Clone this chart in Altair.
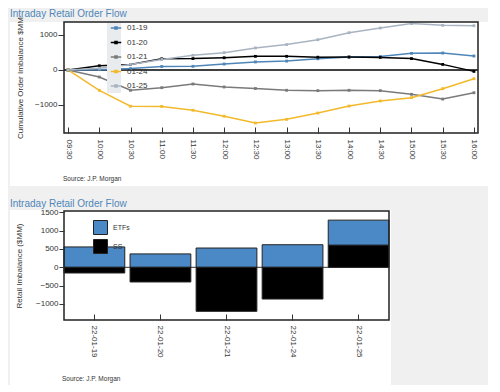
import altair as alt
import pandas as pd

# ---------------- data ----------------
times = ["09:30", "10:00", "10:30", "11:00", "11:30", "12:00", "12:30",
         "13:00", "13:30", "14:00", "14:30", "15:00", "15:30", "16:00"]
series_names = ["01-19", "01-20", "01-21", "01-24", "01-25"]
s_0119 = [0, 10, 40, 100, 105, 170, 230, 255, 320, 370, 385, 475, 485, 400]
s_0120 = [0, 120, 160, 320, 325, 350, 390, 390, 365, 370, 360, 325, 160, -40]
s_0121 = [0, -200, -580, -505, -400, -485, -530, -580, -590, -580, -590, -695, -830, -650]
s_0124 = [0, -580, -1035, -1040, -1150, -1320, -1515, -1410, -1230, -1030, -885, -790, -535, -250]
s_0125 = [0, 50, 160, 300, 420, 495, 630, 725, 865, 1065, 1200, 1325, 1275, 1265]
series_colors = ["#4f86b8", "#000000", "#7a7a7a", "#f2b92b", "#a9b4c2"]
top_ticks = [-1000, 0, 1000]

dates = ["22-01-19", "22-01-20", "22-01-21", "22-01-24", "22-01-25"]
etfs = [555, 365, 525, 615, 685]
ss = [-155, -400, -1200, -865, 600]
bar_names = ["ETFs", "SS"]
bar_colors = ["#4b88c6", "#000000"]
bottom_ticks = [-1000, -500, 0, 500, 1000, 1500]

TITLE = "Intraday Retail Order Flow"
SOURCE = "Source: J.P. Morgan"
FONT = "Liberation Sans"

rows = []
for name, vals in zip(series_names, [s_0119, s_0120, s_0121, s_0124, s_0125]):
    for t, v in zip(times, vals):
        rows.append({"time": t, "series": name, "value": v})
line_df = pd.DataFrame(rows)

brows = []
for d, e, s in zip(dates, etfs, ss):
    brows.append({"date": d, "type": "ETFs", "value": e, "ord": 1})
    brows.append({"date": d, "type": "SS", "value": s, "ord": 0})
bar_df = pd.DataFrame(brows)

one = pd.DataFrame({"k": [0]})

# ---------------- top panel ----------------
top_y_axis = alt.Axis(values=top_ticks, format="d", labelOverlap=False,
                      tickSize=6, labelPadding=1, titlePadding=10, zindex=1,
                      title="Cumulative Order Imbalance $MM")
top_y_scale = alt.Scale(domain=[-1800, 1371], nice=False, zero=False)

card_top = alt.Chart(one).mark_rect(color="white").encode(
    x=alt.value(-54), x2=alt.value(424), y=alt.value(0), y2=alt.value(164))

zero_top = alt.Chart(one).mark_rule(color="black", strokeWidth=1.3).encode(
    y=alt.YDatum(0, axis=top_y_axis, scale=top_y_scale))

lines = alt.Chart(line_df).mark_line(
    strokeWidth=1.5,
    point=alt.OverlayMarkDef(shape="square", size=8, filled=True),
).encode(
    x=alt.X("time:O", sort=times, title=None,
            scale=alt.Scale(type="point", padding=0.13),
            axis=alt.Axis(labelAngle=90, offset=-6, tickSize=6, labelPadding=6, zindex=1)),
    y=alt.Y("value:Q", scale=top_y_scale, axis=top_y_axis),
    color=alt.Color("series:N", scale=alt.Scale(domain=series_names, range=series_colors),
                    legend=alt.Legend(title=None, orient="none", legendX=46, legendY=0,
                                      symbolType="M-1,0L1,0M-0.2,-0.2L0.2,-0.2L0.2,0.2L-0.2,0.2Z",
                                      symbolSize=110, symbolStrokeWidth=1.5,
                                      rowPadding=3.5, labelOffset=5, labelFontSize=8,
                                      labelFont=FONT, labelColor="#333", padding=0)),
)

legend_box = alt.Chart(one).mark_rect(color="#e9ecef").encode(
    x=alt.value(43), x2=alt.value(57), y=alt.value(0), y2=alt.value(71))

frame_top = alt.Chart(one).mark_rect(fill="transparent", stroke="#222", strokeWidth=1.5).encode(
    x=alt.value(0), x2=alt.value("width"), y=alt.value(0), y2=alt.value("height"))

src_top = alt.Chart(one).mark_text(text=SOURCE, align="left", baseline="middle",
                                   fontSize=6.5, font=FONT, color="#333").encode(
    x=alt.value(-1), y=alt.value(157))

top = alt.layer(card_top, zero_top, lines, legend_box, frame_top, src_top).properties(
    width=414, height=111,
    title=alt.TitleParams(TITLE, anchor="start", frame="group", dx=-54, offset=-2, fontSize=10,
                          font=FONT, color="#4f86b8", fontWeight="normal"))

# ---------------- bottom panel ----------------
bot_y_axis = alt.Axis(values=bottom_ticks, format="d", labelOverlap=False, tickSize=5,
                      labelPadding=1, titlePadding=12, zindex=1,
                      title="Retail Imbalance ($MM)")
bot_y_scale = alt.Scale(domain=[-1436, 1534], nice=False)

card_bot = alt.Chart(one).mark_rect(color="white").encode(
    x=alt.value(-54), x2=alt.value(327), y=alt.value(-1), y2=alt.value(174))

zero_bot = alt.Chart(one).mark_rule(color="#333", strokeWidth=1).encode(
    y=alt.YDatum(0, axis=bot_y_axis, scale=bot_y_scale))

bars = alt.Chart(bar_df).mark_bar(stroke="#222", strokeWidth=1).encode(
    x=alt.X("date:N", sort=dates, title=None,
            scale=alt.Scale(paddingInner=0.08, paddingOuter=0),
            axis=alt.Axis(labelAngle=90, offset=-6, tickSize=6, labelPadding=5, zindex=1)),
    y=alt.Y("value:Q", stack="zero", scale=bot_y_scale, axis=bot_y_axis),
    color=alt.Color("type:N", scale=alt.Scale(domain=bar_names, range=bar_colors),
                    legend=alt.Legend(title=None, orient="none", legendX=29, legendY=9,
                                      symbolType="square", symbolSize=196,
                                      symbolStrokeColor="#222", symbolStrokeWidth=1,
                                      rowPadding=0, labelOffset=5, labelFontSize=7,
                                      labelFont=FONT, labelColor="#333", padding=0)),
    order=alt.Order("ord:Q"),
)

frame_bot = alt.Chart(one).mark_rect(fill="transparent", stroke="#222", strokeWidth=1.5).encode(
    x=alt.value(0), x2=alt.value("width"), y=alt.value(0), y2=alt.value("height"))

src_bot = alt.Chart(one).mark_text(text=SOURCE, align="left", baseline="middle",
                                   fontSize=6.5, font=FONT, color="#333").encode(
    x=alt.value(-2), y=alt.value(168))

bottom = alt.layer(card_bot, zero_bot, bars, frame_bot, src_bot).properties(
    width=325, height=109,
    title=alt.TitleParams(TITLE, anchor="start", frame="group", dx=-54, offset=-1, fontSize=10,
                          font=FONT, color="#4f86b8", fontWeight="normal"))

chart = alt.vconcat(top, bottom, spacing=78, bounds="flush").resolve_scale(
    x="independent", y="independent", color="independent"
).resolve_legend(color="independent").properties(
    background="#f0f0f0",
    padding={"left": 2, "top": 0, "right": 0, "bottom": 0},
).configure_view(stroke=None).configure_axis(
    grid=False, domain=False, labelFont=FONT, labelFontSize=8, labelColor="#333",
    tickColor="#333", titleFont=FONT, titleFontSize=8, titleFontWeight="normal",
    titleColor="#333",
)

chart.save("out.html", embed_options={"renderer": "svg", "actions": False})
